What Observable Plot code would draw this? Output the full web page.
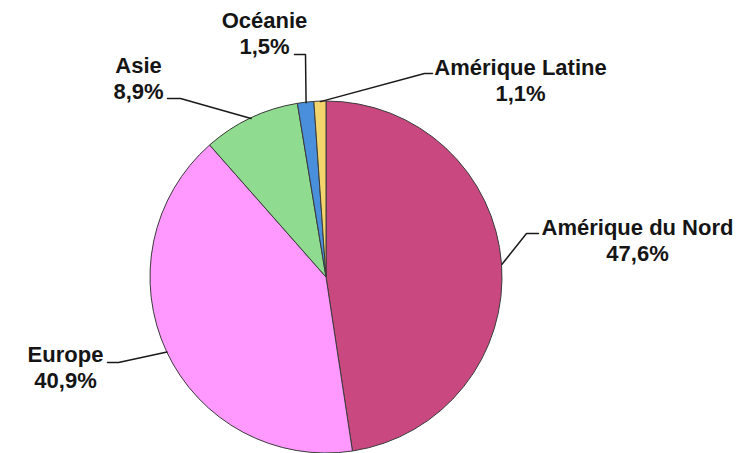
<!DOCTYPE html>
<html>
<head>
<meta charset="utf-8">
<script src="https://cdn.jsdelivr.net/npm/d3@7"></script>
<script src="https://cdn.jsdelivr.net/npm/@observablehq/plot@0.6"></script>
<style>
  html, body { margin: 0; padding: 0; background: #fff; }
  #chart { width: 737px; height: 453px; overflow: hidden; }
</style>
</head>
<body>
<div id="chart"></div>
<script>
// ---- data ----
const regions = ["Amérique du Nord", "Europe", "Asie", "Océanie", "Amérique Latine"];
const shares = [47.6, 40.9, 8.9, 1.5, 1.1];
const shareLabels = ["47,6%", "40,9%", "8,9%", "1,5%", "1,1%"];

// ---- styles / layout ----
const colors = ["#C9487F", "#FF99FF", "#8FDB8F", "#4A8FDB", "#F4D46C"];
const W = 737, H = 453;
const pieCenter = {x: 326, y: 277}, pieRadius = 176;
// label anchor (center x, last-line baseline) and leader elbow (label end, elbow)
const labelLayout = [
  {x: 637, y: 260, end: [538, 233], elbow: [526, 233]},
  {x: 65,  y: 387, end: [107, 362], elbow: [118, 362]},
  {x: 138, y: 98,  end: [167, 98],  elbow: [180, 98]},
  {x: 264, y: 53,  end: [294, 54],  elbow: [305, 54]},
  {x: 520, y: 100, end: [432, 73],  elbow: [424, 73]}
];

const pie = d3.pie().sort(null).value(d => d.share)(
  regions.map((r, i) => ({region: r, share: shares[i], label: shareLabels[i], color: colors[i], i}))
);

const slices = pie.map(p => {
  const mid = (p.startAngle + p.endAngle) / 2;
  const L = labelLayout[p.data.i];
  return {
    ...p.data, startAngle: p.startAngle, endAngle: p.endAngle,
    edgeX: pieCenter.x + pieRadius * Math.sin(mid),
    edgeY: pieCenter.y - pieRadius * Math.cos(mid),
    L
  };
});

const leaderPts = slices.flatMap(s => [
  {k: s.region, x: s.L.end[0], y: s.L.end[1]},
  {k: s.region, x: s.L.elbow[0], y: s.L.elbow[1]},
  {k: s.region, x: s.edgeX, y: s.edgeY}
]);

function pieMark(index, scales) {
  const g = d3.create("svg:g");
  const cx = scales.x(pieCenter.x), cy = scales.y(pieCenter.y);
  const r = scales.x(pieCenter.x + pieRadius) - cx;
  const arc = d3.arc().innerRadius(0).outerRadius(r);
  g.attr("transform", `translate(${cx},${cy})`)
    .selectAll("path")
    .data(slices)
    .join("path")
    .attr("d", d => arc(d))
    .attr("fill", d => d.color)
    .attr("stroke", "#3a3a3a")
    .attr("stroke-width", 1)
    .attr("stroke-linejoin", "round");
  return g.node();
}

const chart = Plot.plot({
  width: W, height: H,
  margin: 0,
  x: {domain: [0, W], range: [0, W], axis: null},
  y: {domain: [0, H], range: [0, H], axis: null},
  style: {background: "#fff", fontFamily: "'Liberation Sans', Arial, sans-serif"},
  marks: [
    pieMark,
    Plot.line(leaderPts, {x: "x", y: "y", z: "k", stroke: "#1a1a1a", strokeWidth: 1.5, curve: "linear"}),
    Plot.text(slices, {
      x: d => d.L.x, y: d => d.L.y,
      text: d => d.region + "\n" + d.label,
      textAnchor: "middle", lineAnchor: "bottom", lineHeight: 1.17,
      fontSize: 22, fontWeight: "bold", fill: "#151515",
      fontFamily: "'Liberation Sans', Arial, sans-serif"
    })
  ]
});
document.getElementById("chart").appendChild(chart);
</script>
</body>
</html>
